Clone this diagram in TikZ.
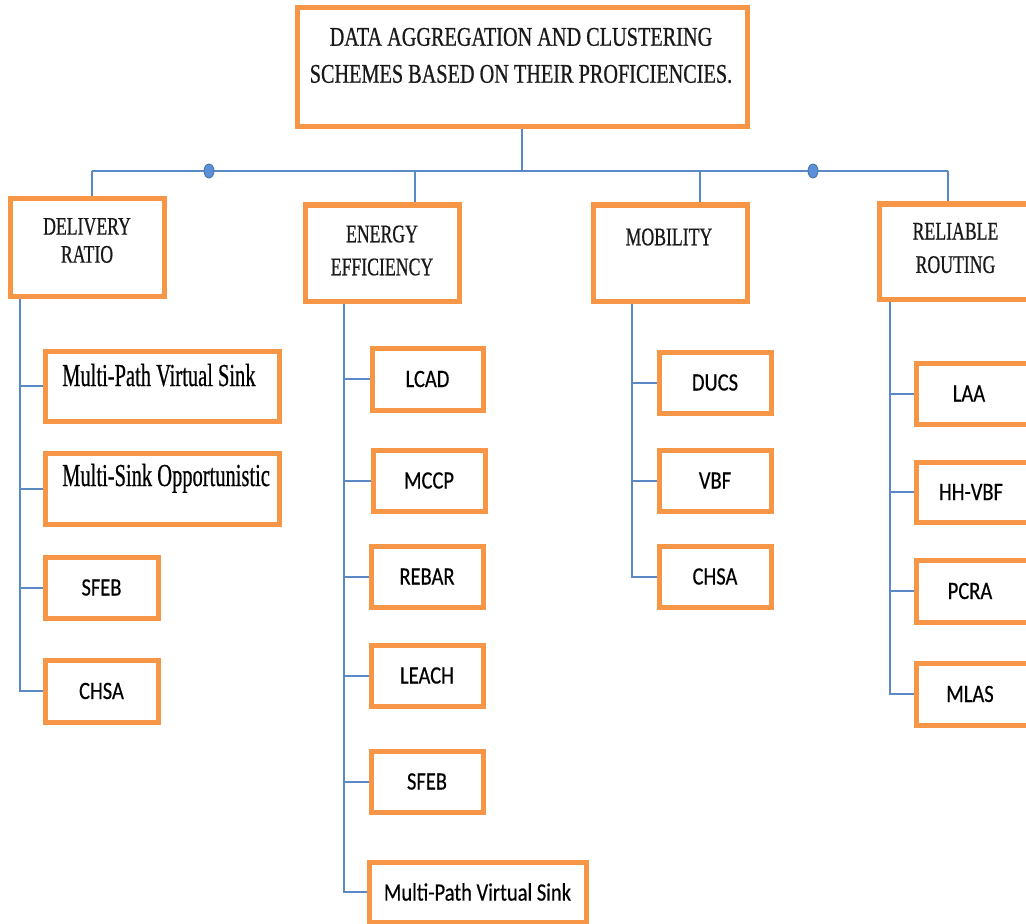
\documentclass[tikz,border=0pt]{standalone}
\usepackage{fontspec}
\setmainfont{Liberation Serif}
\newfontfamily\topfont[FakeStretch=0.75,FakeBold=0.6]{Liberation Serif}
\newfontfamily\hdfont[FakeStretch=0.70,FakeBold=0.6]{Liberation Serif}
\newfontfamily\dfont[FakeStretch=0.64,FakeBold=0.5]{Liberation Serif}
\newfontfamily\lbfont[FakeStretch=0.82,FakeBold=0.4]{Carlito}
\usetikzlibrary{shapes.geometric,backgrounds}
\definecolor{orng}{HTML}{F79646}
\definecolor{wirec}{HTML}{5A8AC6}
\definecolor{dotfill}{HTML}{5B8FD8}
\definecolor{dotline}{HTML}{41719C}
\newdimen\px \px=0.75pt
\begin{document}
\begin{tikzpicture}[x=0.75pt,y=-0.75pt,
  obox/.style={draw=orng, line width=5\px, fill=white, inner sep=0pt},
  sbox/.style={obox, minimum width=112\px, minimum height=61\px,
    font=\lbfont\fontsize{18.75}{22}\selectfont},
  hdtext/.style={align=center, inner sep=0pt, text=black!90},
  cwire/.style={draw=wirec, line width=2\px},
  busdot/.style={ellipse, fill=dotfill, draw=dotline, line width=0.8\px,
    minimum width=10\px, minimum height=14\px, inner sep=0pt}]
\useasboundingbox (0,0) rectangle (1026,924);
\clip (0,0) rectangle (1026,924);

% main boxes
\node[obox, minimum width=450\px, minimum height=119\px] (top) at (522,67.5) {};
\node[obox, minimum width=154\px, minimum height=97\px] (del) at (87,247.5) {};
\node[obox, minimum width=154\px, minimum height=96\px] (ene) at (382,253) {};
\node[obox, minimum width=154\px, minimum height=96\px] (mob) at (670,253) {};
\node[obox, minimum width=154\px, minimum height=95\px] (rel) at (956,251.5) {};

% header texts
\node[hdtext, font=\topfont\fontsize{20.25}{27.75}\selectfont] (topT) at (521,55.5)
  {DATA AGGREGATION AND CLUSTERING\\SCHEMES BASED ON THEIR PROFICIENCIES.};
\node[hdtext, font=\hdfont\fontsize{19}{21}\selectfont] (delT) at (87,240.5) {DELIVERY\\RATIO};
\node[hdtext, font=\hdfont\fontsize{19}{24.75}\selectfont] (eneT) at (382,250.5) {ENERGY\\EFFICIENCY};
\node[hdtext, font=\hdfont\fontsize{19}{24}\selectfont] (mobT) at (669,237) {MOBILITY};
\node[hdtext, font=\hdfont\fontsize{19}{25}\selectfont] (relT) at (955.5,248) {RELIABLE\\ROUTING};

% delivery ratio children
\node[obox, minimum width=234\px, minimum height=70\px] (d1) at (162,386) {};
\node[obox, minimum width=234\px, minimum height=71\px] (d2) at (162,488.5) {};
\node[anchor=base west, inner sep=0pt, font=\dfont\fontsize{24}{28}\selectfont] (d1T) at (62,386) {Multi-Path Virtual Sink};
\node[anchor=base west, inner sep=0pt, font=\dfont\fontsize{24}{28}\selectfont] (d2T) at (62,486) {Multi-Sink Opportunistic};
\node[sbox, minimum width=113\px] (d3) at (101.5,587.5) {SFEB};
\node[sbox, minimum width=113\px, minimum height=62\px] (d4) at (101.5,691) {CHSA};

% energy efficiency children
\node[sbox, minimum width=111\px, minimum height=62\px] (e1) at (427.5,379) {LCAD};
\node[sbox] (e2) at (429,480.5) {MCCP};
\node[sbox] (e3) at (427,576.5) {REBAR};
\node[sbox] (e4) at (427,675.5) {LEACH};
\node[sbox] (e5) at (427,781.5) {SFEB};
\node[sbox, minimum width=217\px, minimum height=60\px] (e6) at (477.5,892) {Multi-Path Virtual Sink};

% mobility children
\node[sbox] (m1) at (715,382.5) {DUCS};
\node[sbox] (m2) at (715,480.5) {VBF};
\node[sbox] (m3) at (715,576.5) {CHSA};

% reliable routing children
\node[sbox, minimum width=114\px] (r1) at (973,393.5) {\hspace*{-8\px}LAA};
\node[sbox, minimum width=114\px, minimum height=60\px] (r2) at (973,492) {\hspace*{-4\px}HH-VBF};
\node[sbox, minimum width=114\px, minimum height=62\px] (r3) at (973,591) {\hspace*{-6\px}PCRA};
\node[sbox, minimum width=114\px, minimum height=62\px] (r4) at (973,694) {\hspace*{-6\px}MLAS};

% connectors
\coordinate (busL) at (92,171);
\coordinate (busR) at (948,171);
\coordinate (bE) at (415,171);
\coordinate (bM) at (700,171);
\coordinate (dT) at (20,0);
\coordinate (eT) at (344,0);
\coordinate (mT) at (632,0);
\coordinate (rT) at (890,0);
\begin{scope}[on background layer]
\fill[white] (0,0) rectangle (1026,924);
\draw[cwire] (top.south) -- (top.south |- busL);
\draw[cwire] (busL) -- (busR);
\draw[cwire] (busL) -- (busL |- del.north);
\draw[cwire] (bE) -- (bE |- ene.north);
\draw[cwire] (bM) -- (bM |- mob.north);
\draw[cwire] (busR) -- (busR |- rel.north);
\foreach \c in {d1,d2,d3,d4} \draw[cwire] (del.south -| dT) |- (\c.west);
\foreach \c in {e1,e2,e3,e4,e5,e6} \draw[cwire] (ene.south -| eT) |- (\c.west);
\foreach \c in {m1,m2,m3} \draw[cwire] (mob.south -| mT) |- (\c.west);
\foreach \c in {r1,r2,r3,r4} \draw[cwire] (rel.south -| rT) |- (\c.west);
\end{scope}
\node[busdot] (dotL) at (209,171) {};
\node[busdot] (dotR) at (813,171) {};
\end{tikzpicture}
\end{document}
